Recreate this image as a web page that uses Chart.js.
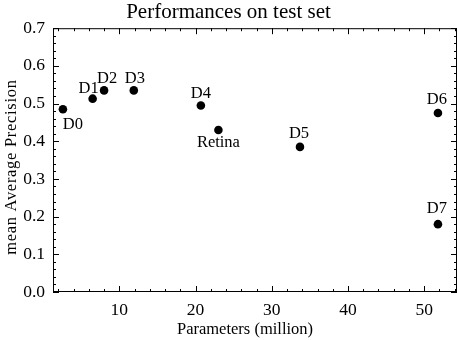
<!DOCTYPE html>
<html lang="en">
    <head>
        <meta charset="utf-8" />
        <script src="https://cdn.jsdelivr.net/npm/chart.js@4/dist/chart.umd.min.js"></script>
        <title>Performances on test set</title>
        <style>
            html, body { margin: 0; padding: 0; background: #fff; overflow: hidden; }
            canvas { display: block; }
        </style>
    </head>
    <body>
        <canvas id="grafico" width="457" height="340"></canvas>
        <script>
            //Datos
            const modelos = ["D0", "D1", "D2", "D3", "D4", "Retina", "D5", "D6", "D7"];
            const parametros = [2.6, 6.5, 8.0, 11.9, 20.7, 23.0, 33.7, 51.8, 51.8];
            const precision = [0.485, 0.513, 0.535, 0.535, 0.495, 0.430, 0.385, 0.475, 0.180];
            const ticksX = [10, 20, 30, 40, 50];
            const ticksY = [0.0, 0.1, 0.2, 0.3, 0.4, 0.5, 0.6, 0.7];
            const tituloX = "Parameters (million)";
            const tituloY = "mean Average Precision";

            //Desplazamiento de cada etiqueta respecto a su punto (px)
            const desplazamientos = [[10, 15], [-4, -10], [3, -12], [1, -12], [0, -12], [0, 13], [-1, -13], [-1, -13], [-1, -15]];

            const fuente = "'Liberation Serif', 'Times New Roman', serif";

            const puntos = parametros.map((x, i) => ({ x: x, y: precision[i] }));

            //Plugin: marco, marcas hacia adentro, etiquetas y titulos de ejes
            const marcas = {
                id: "marcas",
                afterDatasetsDraw(chart) {
                    const ctx = chart.ctx;
                    const a = chart.chartArea;
                    const sx = chart.scales.x;
                    const sy = chart.scales.y;
                    ctx.save();
                    ctx.strokeStyle = "#000";
                    ctx.lineWidth = 1;
                    ctx.strokeRect(a.left + 0.5, a.top + 0.5, a.right - a.left - 1, a.bottom - a.top - 1);
                    ctx.beginPath();
                    for (let v = 2; v <= sx.max; v += 2) {
                        const px = Math.round(sx.getPixelForValue(v)) + 0.5;
                        const largo = v % 10 === 0 ? 6 : 3;
                        ctx.moveTo(px, a.bottom); ctx.lineTo(px, a.bottom - largo);
                        ctx.moveTo(px, a.top); ctx.lineTo(px, a.top + largo);
                    }
                    for (let k = 0; k <= 35; k++) {
                        const v = k * 0.02;
                        const py = Math.round(sy.getPixelForValue(v)) + 0.5;
                        const largo = k % 5 === 0 ? 6 : 3;
                        ctx.moveTo(a.left, py); ctx.lineTo(a.left + largo, py);
                        ctx.moveTo(a.right, py); ctx.lineTo(a.right - largo, py);
                    }
                    ctx.stroke();
                    ctx.fillStyle = "#000";
                    ctx.font = "16.5px " + fuente;
                    ctx.textAlign = "center";
                    ctx.textBaseline = "middle";
                    modelos.forEach((m, i) => {
                        const px = sx.getPixelForValue(parametros[i]) + desplazamientos[i][0];
                        const py = sy.getPixelForValue(precision[i]) + desplazamientos[i][1];
                        ctx.fillText(m, px, py);
                    });
                    //Titulos de ejes
                    ctx.fillText(tituloX, 245, 330);
                    ctx.translate(12, (a.top + a.bottom) / 2 + 7);
                    ctx.rotate(-Math.PI / 2);
                    ctx.letterSpacing = "0.7px";
                    ctx.fillText(tituloY, 0, 0);
                    ctx.restore();
                }
            };

            new Chart(document.getElementById("grafico").getContext("2d"), {
                type: "scatter",
                data: {
                    datasets: [{
                        label: "Performances",
                        data: puntos,
                        backgroundColor: "#000",
                        borderColor: "#000",
                        borderWidth: 0,
                        pointRadius: 4.3,
                        pointHoverRadius: 4.3
                    }]
                },
                options: {
                    responsive: false,
                    animation: false,
                    layout: { padding: 0, autoPadding: false },
                    scales: {
                        x: {
                            type: "linear",
                            min: 1.3,
                            max: 54.3,
                            grid: { display: false, drawTicks: false },
                            border: { display: false },
                            afterBuildTicks: (s) => { s.ticks = ticksX.map(v => ({ value: v })); },
                            afterFit: (s) => { s.height = 48; s.paddingLeft = 0; s.paddingRight = 0; },
                            ticks: { color: "#000", font: { family: fuente, size: 17.5 }, padding: 8, maxRotation: 0 }
                        },
                        y: {
                            min: 0,
                            max: 0.7,
                            grid: { display: false, drawTicks: false },
                            border: { display: false },
                            afterBuildTicks: (s) => { s.ticks = ticksY.map(v => ({ value: v })); },
                            afterFit: (s) => { s.width = 53; },
                            ticks: { color: "#000", font: { family: fuente, size: 17.5 }, padding: 8, callback: (v) => v.toFixed(1) }
                        }
                    },
                    plugins: {
                        legend: { display: false },
                        tooltip: { enabled: false },
                        title: { display: true, text: "Performances on test set", color: "#000", font: { family: fuente, size: 21, weight: "normal" }, padding: { top: 0, bottom: 3 } }
                    }
                },
                plugins: [marcas]
            });
        </script>
    </body>
</html>
